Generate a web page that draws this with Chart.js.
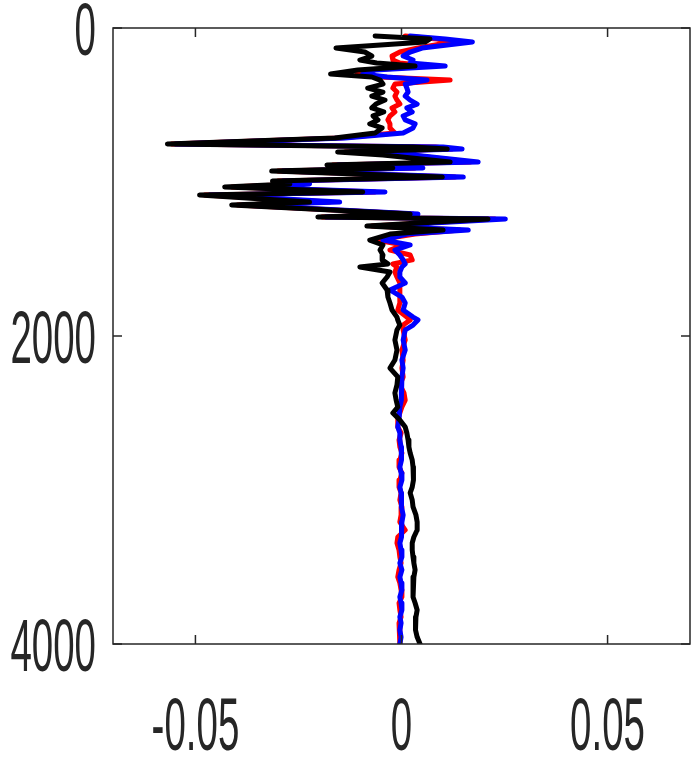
<!DOCTYPE html>
<html>
<head>
<meta charset="utf-8">
<script src="https://cdn.jsdelivr.net/npm/chart.js@4.4.1/dist/chart.umd.min.js"></script>
<style>
  body { margin: 0; background: #fff; }
  #wrap { width: 692px; height: 758px; }
</style>
</head>
<body>
<div id="wrap"><canvas id="profile"></canvas></div>
<script>
// depth samples (m) shared by all three traces
const depth = [
  52, 71, 91, 130, 156, 182, 208, 227, 247, 273, 299, 318, 338, 364, 390, 416, 442, 468, 494, 519,
  545, 571, 597, 623, 649, 682, 714, 753, 773, 786, 805, 825, 870, 890, 909, 929, 968, 994, 1013, 1032,
  1065, 1084, 1130, 1149, 1208, 1227, 1240, 1286, 1312, 1338, 1377, 1409, 1442, 1474, 1506, 1532, 1552, 1584, 1617, 1656,
  1701, 1747, 1786, 1831, 1877, 1896, 1929, 1961, 2026, 2091, 2156, 2208, 2266, 2318, 2370, 2416, 2461, 2500, 2545, 2591,
  2630, 2675, 2721, 2760, 2805, 2851, 2890, 2935, 2981, 3019, 3065, 3110, 3162, 3208, 3260, 3305, 3344, 3390, 3435, 3474,
  3519, 3565, 3604, 3649, 3695, 3734, 3779, 3825, 3864, 3909, 3955, 4000
];

const blackTrace = [
  -0.0064, 0.0069, 0.0057, -0.0159, -0.0089, -0.0072, -0.0101, -0.0060, 0.0033, -0.0106, -0.0172, -0.0072, -0.0052, -0.0045, -0.0082, -0.0045, -0.0072, -0.0040, -0.0062, -0.0072,
  -0.0043, -0.0069, -0.0057, -0.0077, -0.0047, -0.0064, -0.0162, -0.0568, 0.0028, 0.0111, -0.0155, -0.0045, 0.0118, -0.0181, -0.0021, -0.0315, 0.0099, -0.0313, -0.0271, -0.0429,
  -0.0094, -0.0490, -0.0223, -0.0412, 0.0021, -0.0203, 0.0210, -0.0084, 0.0101, -0.0028, -0.0077, -0.0045, -0.0052, -0.0045, -0.0047, -0.0033, -0.0101, -0.0028, -0.0035, -0.0047,
  -0.0035, -0.0033, -0.0028, -0.0023, -0.0011, -0.0009, -0.0004, -0.0011, -0.0016, -0.0011, -0.0016, -0.0028, -0.0009, -0.0011, -0.0016, -0.0013, -0.0009, -0.0021, -0.0004, 0.0009,
  0.0013, 0.0016, 0.0018, 0.0021, 0.0026, 0.0028, 0.0030, 0.0028, 0.0026, 0.0021, 0.0026, 0.0028, 0.0035, 0.0038, 0.0038, 0.0030, 0.0026, 0.0026, 0.0028, 0.0030,
  0.0033, 0.0030, 0.0028, 0.0028, 0.0028, 0.0033, 0.0038, 0.0035, 0.0033, 0.0035, 0.0038, 0.0045
];

const redTrace = [
  0.0009, 0.0086, 0.0123, 0.0040, -0.0004, -0.0023, -0.0021, -0.0004, 0.0062, -0.0077, -0.0108, -0.0052, 0.0118, -0.0016, -0.0021, -0.0011, -0.0016, -0.0011, -0.0004, -0.0023,
  -0.0016, -0.0028, -0.0033, -0.0028, -0.0028, -0.0016, -0.0150, -0.0558, 0.0082, 0.0123, -0.0137, 0.0021, 0.0167, -0.0167, 0.0033, -0.0300, 0.0130, -0.0300, -0.0247, -0.0412,
  -0.0064, -0.0478, -0.0174, -0.0398, 0.0028, -0.0193, 0.0227, -0.0072, 0.0142, 0.0033, -0.0060, 0.0004, -0.0028, 0.0021, 0.0026, -0.0021, -0.0011, -0.0016, -0.0011, -0.0004,
  -0.0004, -0.0004, -0.0004, -0.0009, 0.0013, 0.0021, 0.0004, 0.0004, 0.0009, 0.0001, 0.0004, 0.0001, 0.0004, -0.0004, 0.0006, 0.0009, 0.0001, -0.0004, -0.0009, -0.0009,
  -0.0001, -0.0006, -0.0004, 0.0001, -0.0004, -0.0006, 0.0001, -0.0004, -0.0006, -0.0001, -0.0004, 0.0001, -0.0001, -0.0004, 0.0009, -0.0009, -0.0011, -0.0006, -0.0004, -0.0001,
  -0.0006, -0.0009, -0.0004, -0.0001, 0.0001, -0.0006, -0.0004, -0.0001, -0.0006, -0.0004, -0.0004, -0.0004
];

const blueTrace = [
  0.0021, 0.0106, 0.0172, 0.0050, 0.0021, 0.0004, 0.0028, 0.0021, 0.0106, -0.0064, -0.0094, -0.0035, 0.0062, 0.0009, 0.0013, 0.0016, 0.0009, 0.0021, 0.0038, 0.0013,
  0.0026, 0.0004, 0.0009, 0.0033, 0.0028, 0.0004, -0.0137, -0.0549, 0.0101, 0.0147, -0.0125, 0.0028, 0.0186, -0.0155, 0.0052, -0.0288, 0.0150, -0.0288, -0.0223, -0.0398,
  -0.0040, -0.0466, -0.0150, -0.0386, 0.0040, -0.0184, 0.0252, -0.0057, 0.0162, 0.0013, -0.0045, 0.0021, -0.0016, -0.0004, 0.0004, 0.0009, 0.0001, -0.0004, -0.0004, 0.0009,
  -0.0028, 0.0001, 0.0009, 0.0004, 0.0028, 0.0040, 0.0028, 0.0009, 0.0004, 0.0009, 0.0001, 0.0004, 0.0001, -0.0001, 0.0001, -0.0001, -0.0004, -0.0006, -0.0006, -0.0009,
  -0.0004, -0.0004, -0.0001, -0.0001, 0.0001, -0.0004, -0.0001, 0.0001, -0.0004, -0.0001, 0.0001, -0.0001, 0.0004, 0.0001, 0.0001, -0.0001, -0.0004, -0.0001, 0.0001, -0.0004,
  0.0001, -0.0004, -0.0001, 0.0001, -0.0004, -0.0001, 0.0001, -0.0004, -0.0001, -0.0004, -0.0001, -0.0004
];

const xTicks = [-0.05, 0, 0.05];
const yTicks = [0, 2000, 4000];
const xLabels = ['-0.05', '0', '0.05'];
const yLabels = ['0', '2000', '4000'];

const AXIS_COLOR = '#262626';

// frame, inward ticks and the tall narrow tick labels
const framePlugin = {
  id: 'frame',
  afterDraw(chart) {
    const { ctx, chartArea: a, scales } = chart;
    const xs = scales.x, ys = scales.y;
    const tick = 9;
    ctx.save();
    ctx.strokeStyle = AXIS_COLOR;
    ctx.lineWidth = 1.5;
    ctx.strokeRect(a.left, a.top, a.right - a.left, a.bottom - a.top);
    ctx.beginPath();
    xTicks.forEach(v => {
      const px = xs.getPixelForValue(v);
      ctx.moveTo(px, a.bottom); ctx.lineTo(px, a.bottom - tick);
      ctx.moveTo(px, a.top); ctx.lineTo(px, a.top + tick);
    });
    yTicks.forEach(v => {
      const py = ys.getPixelForValue(v);
      ctx.moveTo(a.left, py); ctx.lineTo(a.left + tick, py);
      ctx.moveTo(a.right, py); ctx.lineTo(a.right - tick, py);
    });
    ctx.stroke();

    ctx.fillStyle = AXIS_COLOR;
    ctx.font = '74px "Liberation Sans", Arial, sans-serif';
    ctx.textBaseline = 'alphabetic';
    const squeeze = 0.52;
    xTicks.forEach((v, i) => {
      ctx.save();
      ctx.translate(xs.getPixelForValue(v), a.bottom + 106);
      ctx.scale(squeeze, 1);
      ctx.textAlign = 'center';
      ctx.fillText(xLabels[i], 0, 0);
      ctx.restore();
    });
    yTicks.forEach((v, i) => {
      ctx.save();
      ctx.translate(a.left - 17, ys.getPixelForValue(v) + 26.5);
      ctx.scale(squeeze, 1);
      ctx.textAlign = 'right';
      ctx.fillText(yLabels[i], 0, 0);
      ctx.restore();
    });
    ctx.restore();
  }
};

function trace(values, color) {
  return {
    data: depth.map((d, i) => ({ x: values[i], y: d })),
    borderColor: color,
    backgroundColor: color,
    borderWidth: 5,
    borderCapStyle: 'round',
    borderJoinStyle: 'round',
    pointRadius: 0,
    tension: 0,
    fill: false,
  };
}

new Chart(document.getElementById('profile'), {
  type: 'line',
  data: {
    // first dataset is painted last, so black sits on top
    datasets: [trace(blackTrace, '#000000'), trace(blueTrace, '#0000ff'), trace(redTrace, '#ff0000')],
  },
  options: {
    indexAxis: 'y',
    responsive: true,
    maintainAspectRatio: false,
    animation: false,
    layout: { padding: { left: 113, top: 28, right: 2, bottom: 114 } },
    plugins: { legend: { display: false }, tooltip: { enabled: false } },
    scales: {
      x: { type: 'linear', min: -0.07, max: 0.07, display: false },
      y: { type: 'linear', min: 0, max: 4000, reverse: true, display: false },
    },
  },
  plugins: [framePlugin],
});
</script>
</body>
</html>
